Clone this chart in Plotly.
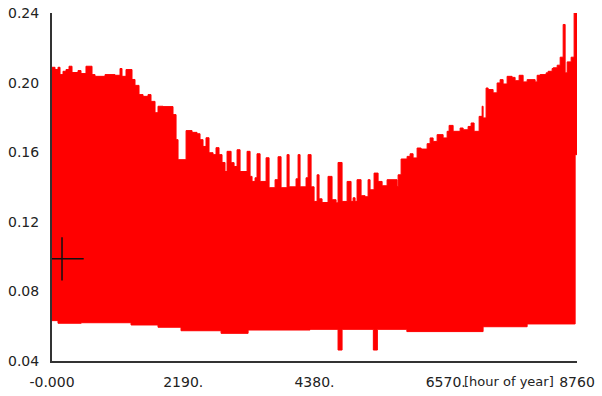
import plotly.graph_objects as go

# Hourly series over one year, summarised by its upper and lower envelopes
# (start hour of each step, value held until the next step).
upper_hour = [0, 50, 100, 134, 184, 234, 284, 334, 434, 484, 567, 668, 718, 885,
              1051, 1135, 1168, 1235, 1335, 1385, 1452, 1519, 1602, 1652, 1719,
              1769, 1853, 2019, 2070, 2103, 2237, 2337, 2420, 2470, 2520, 2570,
              2620, 2687, 2737, 2787, 2837, 2887, 2921, 2988, 3038, 3088, 3138,
              3255, 3305, 3338, 3388, 3421, 3472, 3572, 3622, 3722, 3772, 3822,
              3922, 3956, 4072, 4106, 4139, 4239, 4273, 4323, 4373, 4423, 4456,
              4506, 4606, 4673, 4740, 4773, 4840, 4924, 4990, 5024, 5057, 5090,
              5157, 5224, 5274, 5307, 5374, 5441, 5508, 5591, 5758, 5775, 5825,
              5925, 5975, 6025, 6092, 6159, 6259, 6309, 6359, 6426, 6526, 6593,
              6626, 6693, 6810, 6860, 6943, 6993, 7043, 7127, 7177, 7193, 7243,
              7277, 7360, 7427, 7477, 7527, 7594, 7677, 7727, 7794, 7861, 7928,
              8061, 8095, 8145, 8245, 8278, 8345, 8362, 8429, 8479, 8529, 8562,
              8596, 8662, 8712]
upper_val = [0.2088, 0.2075, 0.2088, 0.2046, 0.2065, 0.2075, 0.2094, 0.2058,
             0.2069, 0.2052, 0.2094, 0.2046, 0.2036, 0.2046, 0.2042, 0.2081,
             0.2036, 0.2075, 0.2018, 0.1984, 0.1931, 0.1921, 0.1931, 0.1892,
             0.1827, 0.1864, 0.1862, 0.1816, 0.1672, 0.1557, 0.1724, 0.1714,
             0.1706, 0.1672, 0.1633, 0.1683, 0.1597, 0.1586, 0.1626, 0.1586,
             0.1541, 0.1489, 0.1605, 0.1540, 0.1518, 0.1614, 0.1489, 0.1605,
             0.1461, 0.1432, 0.1453, 0.1591, 0.1432, 0.1568, 0.1396, 0.1442,
             0.1574, 0.1396, 0.1586, 0.1401, 0.1447, 0.1586, 0.1401, 0.1453,
             0.1586, 0.1401, 0.1317, 0.1470, 0.1332, 0.1311, 0.1461, 0.1327,
             0.1309, 0.1541, 0.1317, 0.1432, 0.1317, 0.1338, 0.1317, 0.1442,
             0.1350, 0.1344, 0.1442, 0.1384, 0.1480, 0.1432, 0.1407, 0.1442,
             0.1403, 0.1470, 0.1561, 0.1576, 0.1591, 0.1567, 0.1624, 0.1618,
             0.1649, 0.1682, 0.1662, 0.1701, 0.1682, 0.1720, 0.1754, 0.1720,
             0.1739, 0.1729, 0.1748, 0.1768, 0.1720, 0.1806, 0.1864, 0.1797,
             0.1969, 0.1960, 0.1941, 0.1998, 0.2017, 0.1992, 0.2036, 0.2030,
             0.2011, 0.2042, 0.2004, 0.2017, 0.2004, 0.2042, 0.2046, 0.2056,
             0.2065, 0.2081, 0.2085, 0.2100, 0.2146, 0.2334, 0.2056, 0.2119,
             0.2146, 0.2410]

lower_hour = [0, 100, 487, 1319, 1769, 2153, 2821, 3272, 4306, 4773, 4840,
              5362, 5429, 5921, 7193, 7928, 8729]
lower_val = [0.0632, 0.0617, 0.0620, 0.0607, 0.0594, 0.0574, 0.0559, 0.0578,
             0.0582, 0.0463, 0.0582, 0.0463, 0.0582, 0.0569, 0.0597, 0.0613,
             0.1586]

year_end = 8760

# Cursor mark on the plot
cursor_hour = [167]
cursor_val = [0.0987]

x_ticks = [0, 2190, 4380, 6570, 8760]
x_tick_text = ["-0.000", "2190.", "4380.", "6570.", "8760"]
y_ticks = [0.04, 0.08, 0.12, 0.16, 0.20, 0.24]
y_tick_text = ["0.04", "0.08", "0.12", "0.16", "0.20", "0.24"]

RED = "#ff0000"
AXIS = "#333333"
FONT = dict(family="DejaVu Sans", size=14, color="#222222")

fig = go.Figure()

fig.add_trace(go.Scatter(
    x=lower_hour + [year_end], y=lower_val + [lower_val[-1]],
    mode="lines", line=dict(color=RED, width=1, shape="hv"),
    hoverinfo="skip", showlegend=False,
))
fig.add_trace(go.Scatter(
    x=upper_hour + [year_end], y=upper_val + [upper_val[-1]],
    mode="lines", line=dict(color=RED, width=1, shape="hv"),
    fill="tonexty", fillcolor=RED,
    hoverinfo="skip", showlegend=False,
))
fig.add_trace(go.Scatter(
    x=cursor_hour, y=cursor_val, mode="markers",
    marker=dict(symbol="cross-thin", size=31, line=dict(color="#111111", width=1.5)),
    hoverinfo="skip", showlegend=False,
))

fig.update_xaxes(
    range=[0, year_end], tickvals=x_ticks, ticktext=x_tick_text,
    showline=True, linecolor=AXIS, linewidth=2, showgrid=False, zeroline=False,
    ticks="", ticklabelstandoff=7, tickfont=FONT, layer="below traces",
    automargin=False,
)
fig.update_yaxes(
    range=[0.04, 0.24], tickvals=y_ticks, ticktext=y_tick_text,
    showline=True, linecolor=AXIS, linewidth=2, showgrid=False, zeroline=False,
    ticks="", ticklabelstandoff=8, tickfont=FONT, layer="below traces",
    automargin=False,
)

fig.add_annotation(
    text="[hour of year]", xref="x", x=6845, xanchor="left",
    yref="paper", y=0, yanchor="top", yshift=-11,
    showarrow=False, font=dict(family="DejaVu Sans", size=13, color="#222222"),
)

fig.update_layout(
    width=602, height=396,
    margin=dict(l=52, r=25, t=13, b=35),
    paper_bgcolor="white", plot_bgcolor="white",
)

fig.write_html("out.html")
